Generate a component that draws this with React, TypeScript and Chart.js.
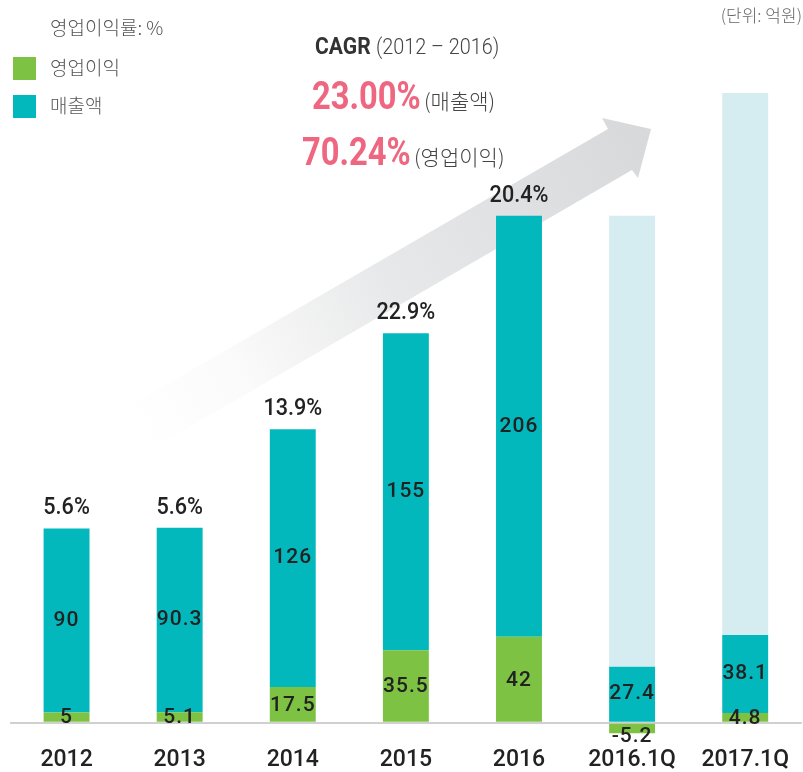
import React, { useEffect, useRef } from "react";
import { Chart, registerables } from "chart.js";

Chart.register(...registerables);

// ---- data ----
const categories = ["2012", "2013", "2014", "2015", "2016", "2016.1Q", "2017.1Q"];
const operatingProfit = [5, 5.1, 17.5, 35.5, 42, -5.2, 4.8]; // 영업이익
const revenue = [90, 90.3, 126, 155, 206, 27.4, 38.1]; // 매출액
const annualReference = [null, null, null, null, null, 248, 308]; // light background bars (full-year level)
const marginPct = [5.6, 5.6, 13.9, 22.9, 20.4, null, null]; // 영업이익률
const cagrRevenue = "23.00%";
const cagrProfit = "70.24%";
const cagrPeriod = "(2012 – 2016)";

const GREEN = "#7dc243";
const TEAL = "#03b8bc";
const LIGHT = "#d5edf0";
const PINK = "#ef6680";
const KR = "'Noto Sans CJK KR', 'Noto Sans', sans-serif";
const NUM = "Roboto, 'Noto Sans', sans-serif";

const lightValues = annualReference.map((v, i) =>
  v == null ? null : v - Math.max(operatingProfit[i], 0) - revenue[i]
);

function txt(
  ctx: CanvasRenderingContext2D,
  s: string,
  x: number,
  y: number,
  font: string,
  color: string,
  align: CanvasTextAlign = "left",
  sx = 1,
  spacing = "0px"
) {
  ctx.save();
  ctx.font = font;
  ctx.fillStyle = color;
  ctx.textBaseline = "middle";
  ctx.textAlign = align;
  (ctx as any).letterSpacing = spacing;
  ctx.translate(x, y);
  ctx.scale(sx, 1);
  ctx.fillText(s, 0, 0);
  ctx.restore();
}

const arrowPlugin = {
  id: "arrowDecor",
  beforeDatasetsDraw(chart: any) {
    const ctx = chart.ctx as CanvasRenderingContext2D;
    ctx.save();
    const g = ctx.createLinearGradient(140, 428, 645, 150);
    g.addColorStop(0, "rgba(216,217,219,0)");
    g.addColorStop(0.2, "rgba(216,217,219,0.12)");
    g.addColorStop(0.5, "rgba(216,217,219,0.6)");
    g.addColorStop(1, "rgba(216,217,219,1)");
    ctx.fillStyle = g;
    ctx.beginPath();
    ctx.moveTo(133, 404);
    ctx.lineTo(608, 129);
    ctx.lineTo(602, 118);
    ctx.lineTo(651, 129);
    ctx.lineTo(638, 178);
    ctx.lineTo(632, 170);
    ctx.lineTo(155, 447);
    ctx.closePath();
    ctx.fill();
    ctx.restore();
  },
};

const labelPlugin = {
  id: "labelDecor",
  afterDatasetsDraw(chart: any) {
    const ctx = chart.ctx as CanvasRenderingContext2D;
    const m0 = chart.getDatasetMeta(0);
    const m1 = chart.getDatasetMeta(1);
    categories.forEach((_, i) => {
      const gb = m0.data[i];
      const tb = m1.data[i];
      const gv = operatingProfit[i];
      const gy = (gb.y + gb.base) / 2 + (gv < 0 ? 8 : 1);
      txt(ctx, String(gv), gb.x, gy, `500 21px ${NUM}`, "#222", "center", 1, "1px");
      const ty = (tb.y + tb.base) / 2;
      txt(ctx, String(revenue[i]), tb.x, ty, `500 21px ${NUM}`, "#222", "center", 1, "1px");
      if (marginPct[i] != null) {
        txt(ctx, marginPct[i]!.toFixed(1) + "%", tb.x, tb.y - 20, `500 24px ${NUM}`, "#222", "center", 0.9);
      }
    });
  },
  afterDraw(chart: any) {
    const ctx = chart.ctx as CanvasRenderingContext2D;
    txt(ctx, "영업이익률: %", 50, 28, `300 19px ${KR}`, "#555");
    ctx.fillStyle = GREEN;
    ctx.fillRect(13, 57, 23, 23);
    ctx.fillStyle = TEAL;
    ctx.fillRect(13, 95, 23, 23);
    txt(ctx, "영업이익", 50, 68, `300 19px ${KR}`, "#555");
    txt(ctx, "매출액", 50, 106, `300 19px ${KR}`, "#555");
    txt(ctx, "(단위: 억원)", 802, 16, `300 17px ${KR}`, "#666", "right");
    txt(ctx, "CAGR", 315, 48, `bold 24px ${NUM}`, "#333", "left", 0.88);
    txt(ctx, cagrPeriod, 376, 48, `300 22px ${NUM}`, "#444", "left", 0.9);
    txt(ctx, cagrRevenue, 312, 99, `bold 38px ${NUM}`, PINK, "left", 0.86);
    txt(ctx, "(매출액)", 424, 101, `300 21px ${KR}`, "#444");
    txt(ctx, cagrProfit, 302, 155, `bold 38px ${NUM}`, PINK, "left", 0.86);
    txt(ctx, "(영업이익)", 414, 157, `300 21px ${KR}`, "#444");
  },
};

export default function App() {
  const ref = useRef<HTMLCanvasElement>(null);
  useEffect(() => {
    if (!ref.current) return;
    const chart = new Chart(ref.current, {
      type: "bar",
      data: {
        labels: categories,
        datasets: [
          { label: "영업이익", data: operatingProfit, backgroundColor: GREEN, stack: "s" },
          { label: "매출액", data: revenue, backgroundColor: TEAL, stack: "s" },
          { label: "연간", data: lightValues as any, backgroundColor: LIGHT, stack: "s" },
        ],
      },
      options: {
        animation: false,
        responsive: false,
        maintainAspectRatio: false,
        devicePixelRatio: 1,
        events: [],
        layout: { padding: { left: 10, right: 0, top: 48, bottom: 0 } },
        datasets: { bar: { barPercentage: 0.406, categoryPercentage: 1 } },
        plugins: { legend: { display: false }, tooltip: { enabled: false } },
        scales: {
          x: {
            stacked: true,
            grid: { display: false, drawTicks: false },
            border: { display: false },
            afterFit: (s: any) => {
              s.height = 37;
            },
            ticks: {
              color: "#222",
              font: { family: NUM, size: 23, weight: "500", lineHeight: 1 },
              padding: 14,
              maxRotation: 0,
              autoSkip: false,
            },
          },
          y: {
            stacked: true,
            min: -6,
            max: 330,
            afterBuildTicks: (s: any) => {
              s.ticks = [{ value: 0 }];
            },
            ticks: { display: false },
            border: { display: false },
            grid: {
              drawTicks: false,
              color: (c: any) => (c.tick && c.tick.value === 0 ? "#d0d0d0" : "rgba(0,0,0,0)"),
              lineWidth: 2,
            },
          },
        },
      },
      plugins: [arrowPlugin, labelPlugin],
    });
    return () => chart.destroy();
  }, []);
  return (
    <div style={{ position: "absolute", left: 0, top: 0, width: 803, height: 772, background: "#fff" }}>
      <canvas ref={ref} width={803} height={772} style={{ display: "block" }} />
    </div>
  );
}
